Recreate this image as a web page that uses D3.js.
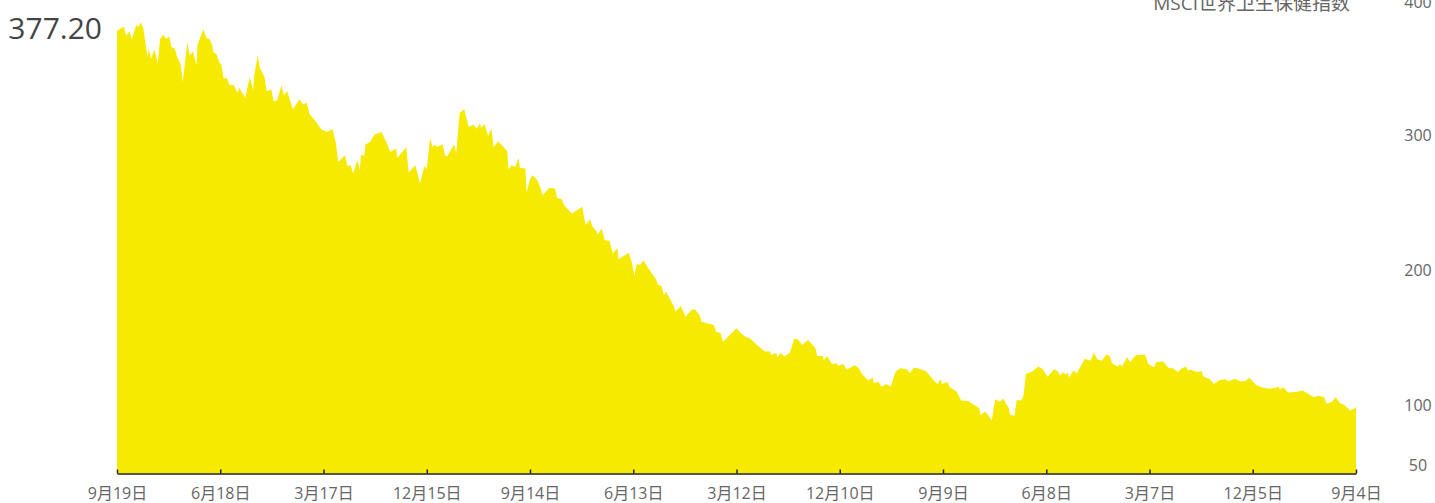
<!DOCTYPE html>
<html>
<head>
<meta charset="utf-8">
<title>MSCI世界卫生保健指数</title>
<script src="https://cdn.jsdelivr.net/npm/d3@7"></script>
<style>
  body { margin: 0; background: #fff; }
  svg text { font-family: "Open Sans", "Noto Sans CJK SC", sans-serif; }
</style>
</head>
<body>
<script>
// days since the first (left-most) point, and index level
var days = [0,6,8,11,13,17,19,21,23,27,28,30,33,36,38,41,43,46,48,51,53,56,58,62,64,67,70,71,76,79,82,84,85,88,90,92,94,97,99,103,106,108,113,117,120,121,124,126,130,132,136,138,141,145,147,150,155,161,164,167,170,175,180,185,190,193,195,201,203,206,208,212,
  214,215,218,219,223,227,233,237,241,246,247,255,257,263,267,271,273,276,278,280,282,287,289,291,297,299,302,306,310,314,317,320,321,324,327,330,332,336,344,345,348,351,354,355,360,361,364,366,370,373,375,381,386,388,392,394,401,410,413,417,419,421,424,427,430,
  434,437,441,442,451,454,456,458,461,464,467,475,477,480,482,484,491,492,497,501,507,510,514,515,526,528,532,534,546,550,554,558,563,571,575,577,581,582,585,588,593,597,600,604,609,614,616,617,622,623,626,630,634,636,639,641,643,650,654,
  656,662,666,667,671,674,678,682,686,690,696,699,702,705,713,721,723,726,727,732,734,740,744,750,760,761,765,768,771,773,774,778,781,786,787,791,793,797,799,801,806,812,816,820,826,829,831,834,836,838,839,843,846,853,858,861,864,868,872,875,
  877,882,884,886,890,893,898,906,909,914,916,922,927,930,935,938,942,944,947,951,956,957,963,967,972,976,980,985,990,994,998,1004,1009,1014,1018,1024,1025,1028,1032,1039,1045,1049,1055,1059,1064,1066,1071,1074,1078,1082,1087,1091,1092];

var values = [377.2,380.4,373.8,376.8,370.8,381.7,379.9,383.6,379.9,357.8,364.0,356.6,363.5,352.9,371.4,374.3,371.4,373.1,365.2,364.0,357.8,352.9,339.3,368.9,359.0,362.0,351.7,366.9,378.2,371.8,370.8,366.4,361.5,359.6,354.1,352.2,341.8,342.3,337.4,336.9,331.5,334.9,327.5,343.0,333.2,344.3,359.0,349.7,343.0,332.5,334.0,325.1,325.8,336.9,329.5,332.5,319.2,326.6,322.7,324.1,315.3,310.3,304.4,302.4,304.4,293.9,280.3,285.2,277.3,277.9,271.7,281.5,
  274.2,285.8,284.7,293.1,295.1,300.5,302.4,295.6,287.7,290.2,283.2,291.1,272.5,277.9,264.4,277.3,274.9,298.0,291.4,293.1,291.4,293.1,285.2,284.3,293.1,286.5,316.7,319.2,306.1,307.9,304.9,308.9,305.4,308.3,299.5,304.9,291.4,295.6,288.2,274.9,277.9,276.6,283.2,275.9,275.4,257.7,267.5,270.5,267.5,261.8,255.7,261.1,260.7,253.7,252.8,248.3,242.2,247.1,233.6,238.0,232.3,231.1,226.7,231.1,222.5,
  222.0,212.7,216.6,208.3,213.1,205.3,195.9,204.8,204.1,207.7,203.3,193.5,189.3,188.6,181.9,184.4,173.3,169.6,173.8,165.9,171.4,170.8,165.9,162.2,159.8,154.8,153.7,147.2,157.3,153.7,151.1,149.7,145.8,140.1,140.4,137.6,139.3,135.9,139.3,136.4,139.3,149.7,149.2,145.0,148.7,144.3,141.8,136.9,136.9,133.9,136.9,131.0,131.5,129.5,131.0,130.0,126.6,130.0,127.8,
  124.1,118.7,121.2,116.8,117.9,114.2,116.2,114.2,125.1,127.8,127.1,124.1,128.0,128.0,125.6,117.9,116.2,119.7,116.2,117.7,113.8,110.6,103.9,103.5,98.3,93.1,95.8,93.1,89.2,99.5,104.9,103.0,105.4,98.3,93.4,92.6,104.4,103.9,107.4,123.6,125.1,129.0,127.1,121.6,127.1,125.6,122.7,124.6,123.1,124.6,120.7,126.1,124.1,134.9,133.4,139.3,134.5,133.4,137.9,136.9,
  131.5,129.0,131.0,129.0,135.9,132.5,137.4,137.9,131.0,128.6,132.5,132.7,127.8,128.0,125.1,127.5,129.0,126.1,126.6,125.1,125.6,122.1,119.7,116.2,119.2,119.7,118.2,120.1,118.2,118.2,120.7,115.3,113.8,112.8,112.8,114.2,112.3,113.8,109.8,110.3,111.3,109.4,106.4,107.4,106.4,101.5,103.0,106.4,102.0,100.5,96.5,98.3,99.5];

var tickLabels = ["9月19日","6月18日","3月17日","12月15日","9月14日","6月13日","3月12日","12月10日","9月9日","6月8日","3月7日","12月5日","9月4日"];
var tickStep = 91;
var yTicks = [50, 100, 200, 300, 400];
var seriesName = "MSCI世界卫生保健指数";
var latestLabel = "377.20";

var width = 1435, height = 503;

var svg = d3.select("body").append("svg")
    .attr("width", width)
    .attr("height", height);

var x = d3.scaleLinear().domain([0, tickStep * (tickLabels.length - 1)]).range([117, 1356]);
var y = d3.scaleLinear().domain([50, 400]).range([473.5, 0]);

var data = days.map(function(d, i) { return [d, values[i]]; });

// yellow area
var area = d3.area()
    .x(function(d) { return x(d[0]); })
    .y0(y(50))
    .y1(function(d) { return y(d[1]); });

svg.append("path")
    .datum(data)
    .attr("d", area)
    .attr("fill", "#f6ea00");

// x axis
var xAxis = d3.axisBottom(x)
    .tickValues(tickLabels.map(function(d, i) { return i * tickStep; }))
    .tickFormat(function(d) { return tickLabels[Math.round(d / tickStep)]; })
    .tickSizeInner(-4)
    .tickSizeOuter(0)
    .tickPadding(14);

var gx = svg.append("g")
    .attr("transform", "translate(0," + y(50) + ")")
    .call(xAxis)
    .attr("font-size", 16)
    .attr("font-family", null);
gx.select(".domain").attr("stroke", "#222").attr("stroke-width", 1.5);
gx.selectAll(".tick line").attr("stroke", "#222").attr("stroke-width", 1.5);
gx.selectAll(".tick text").attr("fill", "#666");

// y axis on the right, labels only
var gy = svg.append("g")
    .attr("transform", "translate(1418,0)")
    .call(d3.axisRight(y).tickValues(yTicks).tickSize(0).tickPadding(0))
    .attr("font-size", 16)
    .attr("font-family", null);
gy.select(".domain").remove();
gy.selectAll(".tick text")
    .attr("text-anchor", "middle")
    .attr("fill", "#666")
    .attr("y", function(d) { return d === 50 ? -8 : (d === 400 ? 2 : 0); });

// series name, top right
svg.append("text")
    .attr("x", 1350)
    .attr("y", 10)
    .attr("text-anchor", "end")
    .attr("font-size", 19)
    .attr("fill", "#666")
    .text(seriesName);

// latest value, top left
svg.append("text")
    .attr("x", 102)
    .attr("y", 39)
    .attr("text-anchor", "end")
    .attr("font-size", 30)
    .attr("fill", "#444")
    .text(latestLabel);
</script>
</body>
</html>
